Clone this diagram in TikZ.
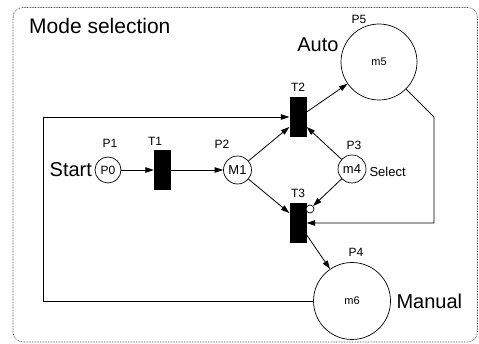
\documentclass[tikz,border=0pt]{standalone}
\usepackage{fontspec}
\setmainfont{Liberation Sans}
\usetikzlibrary{arrows.meta,positioning}
\tikzset{>/.tip={Triangle[length=8.5pt,width=5.5pt]}}
\tikzset{
  place/.style={draw,circle,line width=0.7pt,inner sep=0pt},
  trans/.style={fill=black,minimum width=17pt,minimum height=40pt,inner sep=0pt},
  inhib/.style={draw,circle,fill=white,minimum size=8pt,inner sep=0pt,line width=0.7pt},
  lab/.style={font=\fontsize{12}{14}\selectfont,inner sep=0pt},
  big/.style={font=\fontsize{20}{24}\selectfont,inner sep=0pt},
  arc/.style={->,line width=0.8pt},
}

\begin{document}
\begin{tikzpicture}[x=1pt,y=-1pt]
  \useasboundingbox (0,0) rectangle (479,344);
  \draw[black!70,line width=0.6pt,dash pattern=on 0.8pt off 0.8pt,rounded corners=10pt]
    (13,7.5) rectangle (477.5,342);
  \node(title)[anchor=base west,inner sep=0pt,font=\fontsize{21}{25}\selectfont]
    at (29,34) {Mode selection};

  % places
  \node(P0)[place,minimum size=26pt,font=\fontsize{12}{13}\selectfont,
    label={[lab,label distance=8.5pt,xshift=2pt]above:P1},
    label={[big,label distance=2.5pt]left:Start}] at (108,170) {P0};
  \node(M1)[place,minimum size=28pt,font=\fontsize{13}{14}\selectfont,
    label={[lab,label distance=7pt,xshift=-15.5pt]above:P2}] at (237.5,170) {M1};
  \node(P3)[place,minimum size=28pt,font=\fontsize{13}{14}\selectfont,
    label={[lab,label distance=4.7pt,xshift=2pt]above:P3},
    label={[font=\fontsize{13}{14}\selectfont,inner sep=0pt,label distance=3pt,yshift=-2.7pt]right:Select}]
    at (352,169) {m4};
  \node(P5)[place,minimum size=76pt,font=\fontsize{11}{12}\selectfont,
    label={[lab,label distance=0pt,xshift=-20pt]above:P5},
    label={[big,label distance=2pt,yshift=17pt]left:Auto}] at (379,62) {m5};
  \node(P4)[place,minimum size=77pt,font=\fontsize{11}{12}\selectfont,
    label={[lab,label distance=5.2pt,xshift=4pt]above:P4},
    label={[big,label distance=5.5pt]right:Manual}] at (352,301) {m6};

  % transitions
  \node(T1)[trans,label={[lab,label distance=3.7pt,xshift=-7.5pt]above:T1}] at (162.5,170) {};
  \node(T2)[trans,label={[lab,label distance=4.7pt]above:T2}] at (298,117) {};
  \node(T3)[trans,label={[lab,label distance=5.2pt]above:T3}] at (298,223) {};
  \node(inh)[inhib] at (310,209) {};

  \coordinate(back) at (43,117);
  \coordinate(turn) at (434,117);

  % arcs
  \draw[arc] (P0) -- (T1);
  \draw[arc] (T1) -- (M1);
  \draw[arc] (M1) -- ([yshift=-10pt]T2.west);
  \draw[arc] (P3) -- ([yshift=-10pt]T2.east);
  \draw[arc] ([yshift=5pt]T2.east) -- (P5);
  \draw[arc] (M1) -- ([yshift=10pt]T3.west);
  \draw[arc] (P3) -- (inh);
  \draw[arc] ([yshift=-12pt]T3.east) -- (P4);
  \draw[arc] (P5.-45) -- (turn) |- (T3.east);
  \draw[arc] (P4.west) -| (back) -- (T2.west);
\end{tikzpicture}
\end{document}
